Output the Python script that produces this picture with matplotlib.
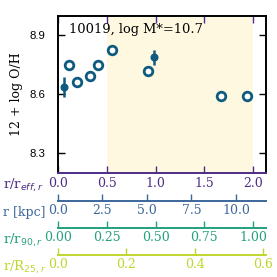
import matplotlib
matplotlib.use("Agg")
import matplotlib.pyplot as plt
import numpy as np

plt.rcParams['font.family'] = ['DejaVu Serif']
plt.rcParams['mathtext.fontset'] = 'dejavusans'

# data (x in r/r_eff,r)
open_x = [0.116, 0.195, 0.328, 0.41, 0.557, 0.92, 1.668, 1.938]
open_y = [8.751, 8.664, 8.692, 8.751, 8.825, 8.716, 8.592, 8.592]
fill_x = [0.065, 0.981]
fill_y = [8.637, 8.789]
fill_err = [0.05, 0.038]
yticks = [8.3, 8.6, 8.9]
xticks = [0.0, 0.5, 1.0, 1.5, 2.0]
kpc_ticks = [0.0, 2.5, 5.0, 7.5, 10.0]
r90_ticks = [0.0, 0.25, 0.5, 0.75, 1.0]
r25_ticks = [0.0, 0.2, 0.4, 0.6]
kpc_per_reff = 5.48
r90_per_reff = 2.0
r25_per_reff = 3.51
shade = (0.5, 2.0)
title = "10019, log M*=10.7"

c_pt = '#0f5b7f'
c_eff = '#4d2d85'
c_kpc = '#3c679a'
c_r90 = '#24a07f'
c_r25 = '#c0d62e'

W = 277
fig = plt.figure(figsize=(2.77, 2.77), dpi=100)
ax = fig.add_axes([58/W, 1-173/W, 208/W, 157.5/W])

ax.axvspan(*shade, color='#fef8e0', lw=0, zorder=0)
ax.plot(open_x, open_y, 'o', ms=6.2, mfc='white', mec=c_pt, mew=2.0, zorder=3)
ax.errorbar(fill_x, fill_y, yerr=fill_err, fmt='o', ms=4.8, color=c_pt,
            elinewidth=1.8, capsize=0, zorder=3)

ax.set_xlim(0, 2.133)
ax.set_ylim(8.2, 9.0)
ax.set_yticks(yticks)
ax.set_yticklabels([f"{v:.1f}" for v in yticks], family='Liberation Sans', fontsize=8.2)
ax.set_xticks(xticks)
ax.set_xticklabels([f"{v:.1f}" for v in xticks], family='DejaVu Serif', fontsize=9)
ax.tick_params(axis='both', direction='in', length=5, width=1)
ax.tick_params(axis='y', right=True, color='black', pad=9)
ax.tick_params(axis='x', top=True, color=c_eff, labelcolor=c_eff, pad=3)
for s in ['left', 'right', 'top']:
    ax.spines[s].set_linewidth(1.4)
ax.spines['bottom'].set_color(c_eff)
ax.spines['bottom'].set_linewidth(1.4)
ax.set_ylabel("12 + log O/H", fontsize=9, labelpad=5)

ax.text(0.055, 0.955, title, transform=ax.transAxes, fontsize=9.4, va='top', ha='left')

def add_sec(loc, factor, ticks, fmt, color):
    sec = ax.secondary_xaxis(loc, functions=(lambda x, f=factor: x / f,
                                              lambda x, f=factor: x * f))
    sec.set_xticks(ticks)
    sec.set_xticklabels([fmt.format(t) for t in ticks], family='DejaVu Serif', fontsize=9)
    sec.tick_params(direction='in', length=5, width=1, colors=color, pad=2.5)
    sec.spines['bottom'].set_color(color)
    sec.spines['bottom'].set_linewidth(1.4)
    return sec

add_sec(-28/157.5, 1/kpc_per_reff, kpc_ticks, "{:.1f}", c_kpc)
add_sec(-55/157.5, r90_per_reff, r90_ticks, "{:.2f}", c_r90)
add_sec(-82/157.5, r25_per_reff, r25_ticks, "{:.1f}", c_r25)

fig.text(3/W, 1-185.5/W, r"r/r$_{eff,r}$", color=c_eff, fontsize=9.5, va='center', ha='left')
fig.text(3/W, 1-212.7/W, "r [kpc]", color=c_kpc, fontsize=9, va='center', ha='left')
fig.text(3/W, 1-240/W, r"r/r$_{90,r}$", color=c_r90, fontsize=9.5, va='center', ha='left')
fig.text(3/W, 1-267.3/W, r"r/R$_{25,r}$", color=c_r25, fontsize=9.5, va='center', ha='left')

fig.savefig("out.png", dpi=100)
